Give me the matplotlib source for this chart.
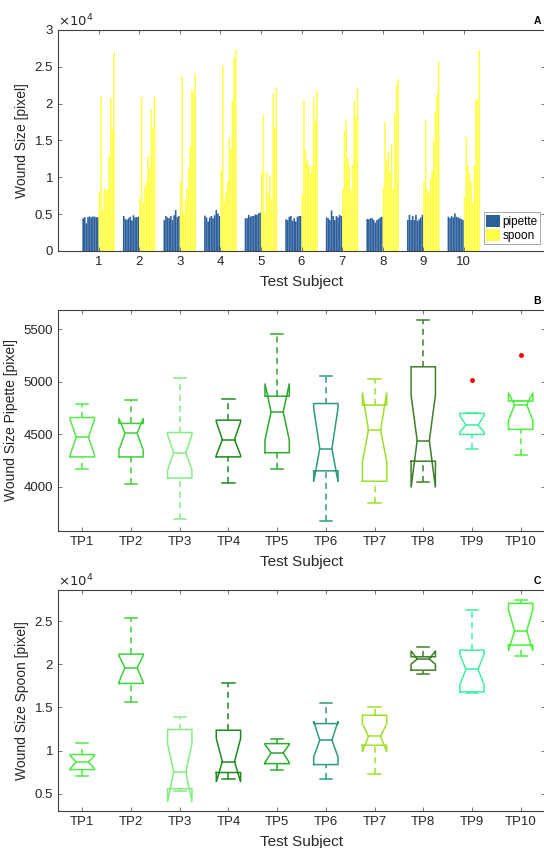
import numpy as np
import matplotlib
matplotlib.use("Agg")
import matplotlib.pyplot as plt
from matplotlib.patches import Patch

plt.rcParams['font.family'] = ['Liberation Sans', 'DejaVu Sans']

# ---------------- data ----------------
subjects = [1, 2, 3, 4, 5, 6, 7, 8, 9, 10]

pipette = [
    [4450, 4600, 3750, 4600, 4700, 4550, 4700, 4650, 4600, 4550],
    [4750, 4350, 4250, 4450, 4650, 4150, 4850, 4550, 4600, 4650],
    [4200, 4750, 4550, 4450, 4750, 4200, 4850, 5550, 4600, 4750],
    [4800, 4550, 4000, 4550, 4750, 4450, 4850, 5550, 5100, 4750],
    [4450, 4450, 4900, 4650, 4750, 4750, 4950, 4900, 5100, 5200],
    [4300, 4200, 4650, 4750, 4100, 4450, 4000, 4650, 4750, 4750],
    [4550, 4450, 4200, 5500, 4750, 4200, 4750, 4550, 4900, 4750],
    [4350, 4300, 4450, 4450, 4200, 3850, 4200, 4350, 4550, 4650],
    [4200, 4900, 4200, 4750, 4200, 4900, 4100, 4300, 4550, 4900],
    [4650, 4450, 4750, 4550, 5100, 4650, 4550, 4450, 4350, 4200],
]
spoon = [
    [8000, 21000, 5600, 8600, 8200, 8300, 12900, 20800, 16600, 26900],
    [7100, 20900, 6600, 8800, 9300, 12900, 11200, 19200, 16800, 20900],
    [9400, 23700, 5100, 6900, 8400, 11200, 14300, 21900, 21400, 24100],
    [10900, 25200, 6700, 7900, 9400, 15400, 13900, 20500, 26200, 27300],
    [10700, 18500, 5300, 10800, 7900, 10200, 6900, 21300, 16700, 22200],
    [7700, 20500, 13800, 12300, 11700, 10600, 11500, 20900, 17600, 21800],
    [8500, 16400, 17700, 12600, 11600, 8200, 11800, 20400, 18100, 22100],
    [8600, 17600, 12400, 13500, 10800, 14500, 8400, 18700, 22500, 23300],
    [9400, 17800, 8400, 7900, 9800, 10900, 15000, 18900, 21300, 25700],
    [7400, 15500, 11700, 10500, 9300, 6600, 11700, 20600, 20500, 27300],
]

tp_labels = ['TP1', 'TP2', 'TP3', 'TP4', 'TP5', 'TP6', 'TP7', 'TP8', 'TP9', 'TP10']
tp_colors = ['#55e84a', '#3ed13a', '#85ee85', '#1e8a1e', '#2eaa2e',
             '#2e9b80', '#9ee02a', '#3f7f2a', '#3ef0a0', '#4cf03c']

# pipette box statistics
pip_q1 = [4286, 4286, 4085, 4286, 4326, 4153, 4054, 4245, 4500, 4548]
pip_med = [4475, 4510, 4326, 4451, 4715, 4365, 4540, 4442, 4589, 4780]
pip_q3 = [4661, 4605, 4518, 4636, 4864, 4794, 4779, 5144, 4700, 4818]
pip_lo = [4167, 4026, 3698, 4041, 4175, 3676, 3847, 4044, 4357, 4302]
pip_hi = [4789, 4832, 5040, 4833, 5455, 5055, 5026, 5589, 4700, 4818]
pip_cilo = [4305, 4350, 4160, 4300, 4445, 4048, 4238, 3994, 4520, 4636]
pip_cihi = [4640, 4655, 4495, 4620, 4985, 4750, 4899, 4874, 4680, 4897]
pip_out = [[], [], [], [], [], [], [], [], [5018], [5257]]

# spoon box statistics
sp_q1 = [7790, 17770, 5580, 7450, 8480, 8370, 10610, 19310, 16800, 22210]
sp_med = [8670, 19580, 7510, 8710, 9720, 11190, 11650, 20590, 19390, 23880]
sp_q3 = [9530, 21170, 12430, 12350, 10800, 13120, 14090, 20860, 21630, 27050]
sp_lo = [7090, 15600, 5270, 6650, 7780, 6660, 7320, 18850, 16680, 20940]
sp_hi = [10920, 25350, 13900, 17770, 11310, 15450, 15060, 22020, 26280, 27440]
sp_cilo = [7900, 17900, 4030, 6350, 8600, 9260, 9840, 20010, 17600, 21560]
sp_cihi = [9400, 21000, 10800, 11400, 10700, 13390, 13100, 21560, 21200, 26300]
sp_out = [[] for _ in range(10)]

# ---------------- figure ----------------
W, H = 544, 848
fig = plt.figure(figsize=(W / 100, H / 100), dpi=100)

def ax_rect(left, right, top, bottom):
    return [left / W, 1 - bottom / H, (right - left) / W, (bottom - top) / H]

axA = fig.add_axes(ax_rect(58, 545, 30, 251))
axB = fig.add_axes(ax_rect(58, 545, 310, 531))
axC = fig.add_axes(ax_rect(58, 545, 590, 811))

spine_col = '#404040'
txt_col = '#262626'

def style(ax):
    for s in ax.spines.values():
        s.set_color(spine_col)
        s.set_linewidth(0.8)
    ax.tick_params(direction='in', length=3, width=0.6, colors='#606060',
                   labelcolor=txt_col, labelsize=9.5, top=True, right=True)

# ---- Panel A ----
nser = 10
bw = 0.04
for si, s in enumerate(subjects):
    xp = [s - 0.4 + bw * (k + 0.5) for k in range(nser)]
    xs = [s - 0.4 + bw * (nser + k + 0.5) for k in range(nser)]
    axA.bar(xp, pipette[si], width=bw, color='#2c5f9b', linewidth=0, snap=False)
    axA.bar(xs, spoon[si], width=bw, color='#ffff4a', linewidth=0, snap=False)
axA.set_xlim(0, 12)
axA.set_ylim(0, 30000)
axA.set_xticks(subjects)
axA.set_xticklabels([str(s) for s in subjects])
yt = [0, 5000, 10000, 15000, 20000, 25000, 30000]
axA.set_yticks(yt)
axA.set_yticklabels(['0', '0.5', '1', '1.5', '2', '2.5', '3'])
style(axA)
axA.set_xlabel('Test Subject', fontsize=11, color=txt_col, labelpad=5)
axA.set_ylabel('Wound Size [pixel]', fontsize=10, color=txt_col, labelpad=4)
axA.text(0.0, 1.005, r'$\times10^{4}$', transform=axA.transAxes, ha='left',
         va='bottom', fontsize=9.5, color=txt_col)
axA.text(0.992, 1.02, 'A', transform=axA.transAxes, ha='right', va='bottom',
         fontsize=7.5, fontweight='bold', color='black')
leg = axA.legend(handles=[Patch(facecolor='#2c5f9b', label='pipette'),
                          Patch(facecolor='#ffff4a', label='spoon')],
                 loc='lower right', bbox_to_anchor=(0.995, 0.02), fontsize=8.5,
                 handlelength=1.2, handleheight=1.2, handletextpad=0.2,
                 borderpad=0.2, labelspacing=0.1, frameon=True, fancybox=False,
                 borderaxespad=0.2)
leg.get_frame().set_edgecolor('#808080')
leg.get_frame().set_linewidth(0.6)

# ---- box drawing ----
def draw_boxes(ax, q1, med, q3, lo, hi, cilo, cihi, outs):
    w = 0.25
    nw = 0.125
    cw = 0.125
    for i in range(len(q1)):
        p = i + 1
        c = tp_colors[i]
        xs = [p - w, p - w, p - nw, p - w, p - w, p + w, p + w, p + nw, p + w, p + w, p - w]
        ys = [q1[i], cilo[i], med[i], cihi[i], q3[i], q3[i], cihi[i], med[i], cilo[i], q1[i], q1[i]]
        ax.plot(xs, ys, color=c, lw=1.1, solid_joinstyle='miter')
        ax.plot([p - nw, p + nw], [med[i], med[i]], color=c, lw=1.1)
        if hi[i] > q3[i]:
            ax.plot([p, p], [q3[i], hi[i]], color=c, lw=1.1, ls=(0, (4, 3)))
        ax.plot([p - cw, p + cw], [hi[i], hi[i]], color=c, lw=1.1)
        if lo[i] < q1[i]:
            ax.plot([p, p], [lo[i], q1[i]], color=c, lw=1.1, ls=(0, (4, 3)))
        ax.plot([p - cw, p + cw], [lo[i], lo[i]], color=c, lw=1.1)
        for o in outs[i]:
            ax.plot([p], [o], marker='o', ms=2.5, color='red', mec='red', ls='none')
    ax.set_xlim(0.5, 10.5)
    ax.set_xticks(range(1, 11))
    ax.set_xticklabels(tp_labels)

# ---- Panel B ----
draw_boxes(axB, pip_q1, pip_med, pip_q3, pip_lo, pip_hi, pip_cilo, pip_cihi, pip_out)
axB.set_ylim(3580, 5685)
axB.set_yticks([4000, 4500, 5000, 5500])
axB.set_yticklabels(['4000', '4500', '5000', '5500'])
style(axB)
axB.set_xlabel('Test Subject', fontsize=11, color=txt_col, labelpad=5)
axB.set_ylabel('Wound Size Pipette [pixel]', fontsize=10, color=txt_col, labelpad=4)
axB.text(0.992, 1.02, 'B', transform=axB.transAxes, ha='right', va='bottom',
         fontsize=7.5, fontweight='bold', color='black')

# ---- Panel C ----
draw_boxes(axC, sp_q1, sp_med, sp_q3, sp_lo, sp_hi, sp_cilo, sp_cihi, sp_out)
axC.set_ylim(2990, 28600)
axC.set_yticks([5000, 10000, 15000, 20000, 25000])
axC.set_yticklabels(['0.5', '1', '1.5', '2', '2.5'])
style(axC)
axC.set_xlabel('Test Subject', fontsize=11, color=txt_col, labelpad=5)
axC.set_ylabel('Wound Size Spoon [pixel]', fontsize=10, color=txt_col, labelpad=4)
axC.text(0.0, 1.005, r'$\times10^{4}$', transform=axC.transAxes, ha='left',
         va='bottom', fontsize=9.5, color=txt_col)
axC.text(0.992, 1.02, 'C', transform=axC.transAxes, ha='right', va='bottom',
         fontsize=7.5, fontweight='bold', color='black')

fig.savefig('out.png', dpi=100)
